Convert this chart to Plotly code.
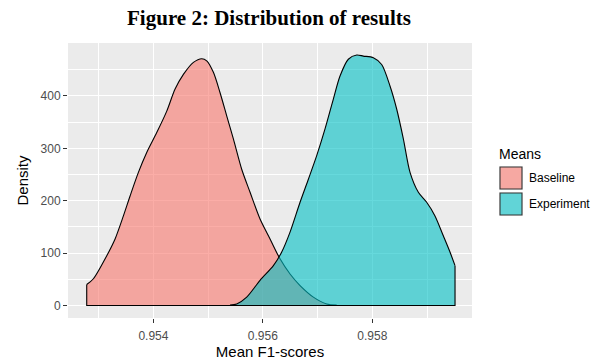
import plotly.graph_objects as go

# Data (density estimates)
baseline_x = [0.952782, 0.952904, 0.953148, 0.953300, 0.953452, 0.953574, 0.953726,
              0.953878, 0.954061, 0.954244, 0.954396, 0.954548, 0.954731, 0.954883, 0.954974,
              0.955096, 0.955218, 0.955339, 0.955461, 0.955613, 0.955766, 0.955948, 0.956131,
              0.956313, 0.956496, 0.956679, 0.956922, 0.957166, 0.957348]
baseline_y = [40, 51, 95, 127, 171, 209, 254,
              292, 330, 371, 413, 441, 464, 471, 467,
              445, 406, 362, 318, 260, 216, 165, 127,
              89, 60, 38, 16, 3, 1]

experiment_x = [0.955400, 0.955522, 0.955705, 0.955948, 0.956192, 0.956344, 0.956496,
                0.956679, 0.956831, 0.956983, 0.957135, 0.957287, 0.957409, 0.957561, 0.957714,
                0.957835, 0.958018, 0.958170, 0.958322, 0.958444, 0.958566, 0.958688, 0.958840,
                0.958992, 0.959144, 0.959296, 0.959418, 0.959510]
experiment_y = [1, 3, 16, 48, 76, 102, 140,
                197, 241, 286, 337, 394, 438, 470, 478,
                476, 473, 460, 419, 375, 318, 254, 216,
                197, 171, 133, 102, 76]

series_names = ["Baseline", "Experiment"]
series_fill = ["rgba(248,118,109,0.6)", "rgba(0,191,196,0.6)"]

x_ticks = [0.954, 0.956, 0.958]
x_tick_labels = ["0.954", "0.956", "0.958"]
y_ticks = [0, 100, 200, 300, 400]
y_tick_labels = ["0", "100", "200", "300", "400"]

W, H = 605, 362
ml, mr, mt, mb = 68, 133, 43, 44
pw, ph = W - ml - mr, H - mt - mb


def px_to_paper_x(px):
    return (px - ml) / pw


def py_to_paper_y(py):
    return 1 - (py - mt) / ph


fig = go.Figure()
for xs, ys, name, col in [(baseline_x, baseline_y, series_names[0], series_fill[0]),
                          (experiment_x, experiment_y, series_names[1], series_fill[1])]:
    # filled density with smooth top edge
    fig.add_trace(go.Scatter(
        x=xs, y=ys, mode="lines", fill="tozeroy",
        fillcolor=col, line=dict(color="black", width=1.1, shape="spline", smoothing=0.8),
        name=name, showlegend=False, hoverinfo="skip"))
    # outline: vertical edges and baseline
    fig.add_trace(go.Scatter(
        x=[xs[0], xs[0], xs[-1], xs[-1]], y=[ys[0], 0, 0, ys[-1]], mode="lines",
        line=dict(color="black", width=1.1), showlegend=False, hoverinfo="skip"))

# Custom legend (ggplot-style keys)
key_top = [166, 192]
fig.add_annotation(x=px_to_paper_x(497), y=py_to_paper_y(154), xref="paper", yref="paper",
                   text="Means", showarrow=False, xanchor="left", yanchor="middle",
                   font=dict(size=14, color="black", family="Liberation Sans, Arial, sans-serif"))
for i, name in enumerate(series_names):
    top = key_top[i]
    fig.add_shape(type="rect", xref="paper", yref="paper",
                  x0=px_to_paper_x(499), x1=px_to_paper_x(523),
                  y0=py_to_paper_y(top + 24), y1=py_to_paper_y(top),
                  fillcolor="#F2F2F2", line=dict(width=0), layer="above")
    fig.add_shape(type="rect", xref="paper", yref="paper",
                  x0=px_to_paper_x(500), x1=px_to_paper_x(522),
                  y0=py_to_paper_y(top + 23), y1=py_to_paper_y(top + 1),
                  fillcolor=series_fill[i], line=dict(color="#333333", width=1.1), layer="above")
    fig.add_annotation(x=px_to_paper_x(527), y=py_to_paper_y(top + 12), xref="paper", yref="paper",
                       text=name, showarrow=False, xanchor="left", yanchor="middle",
                       font=dict(size=12, color="black", family="Liberation Sans, Arial, sans-serif"))

fig.update_layout(
    width=W, height=H,
    margin=dict(l=ml, r=mr, t=mt, b=mb, autoexpand=False),
    paper_bgcolor="white", plot_bgcolor="#EBEBEB",
    font=dict(family="Liberation Sans, Arial, sans-serif", color="black"),
    title=dict(text="<b>Figure 2: Distribution of results</b>", x=269 / W, xanchor="center",
               y=1 - 18 / H, yanchor="middle",
               font=dict(family="Liberation Serif, serif", size=21, color="black")),
    showlegend=False,
)
fig.update_xaxes(range=[0.95244, 0.95982], tickvals=x_ticks, ticktext=x_tick_labels,
                 automargin=False,
                 showgrid=True, gridcolor="white", gridwidth=1.3,
                 minor=dict(dtick=0.001, tick0=0.953, gridcolor="white", gridwidth=0.6, showgrid=True),
                 ticks="outside", ticklen=4, tickcolor="#333333", tickwidth=1,
                 ticklabelstandoff=3,
                 tickfont=dict(size=12, color="#4D4D4D"), zeroline=False, showline=False,
                 title=dict(text="Mean F1-scores", font=dict(size=15, color="black"), standoff=4))
fig.update_yaxes(range=[-23.9, 501], tickvals=y_ticks, ticktext=y_tick_labels,
                 automargin=False,
                 showgrid=True, gridcolor="white", gridwidth=1.3,
                 minor=dict(dtick=100, tick0=50, gridcolor="white", gridwidth=0.6, showgrid=True),
                 ticks="outside", ticklen=4, tickcolor="#333333", tickwidth=1,
                 tickfont=dict(size=12, color="#4D4D4D"), zeroline=False, showline=False,
                 title=dict(text="Density", font=dict(size=15, color="black"), standoff=8))

fig.write_html("out.html", config={"displayModeBar": False},
               post_script="document.body.style.margin='0';")
